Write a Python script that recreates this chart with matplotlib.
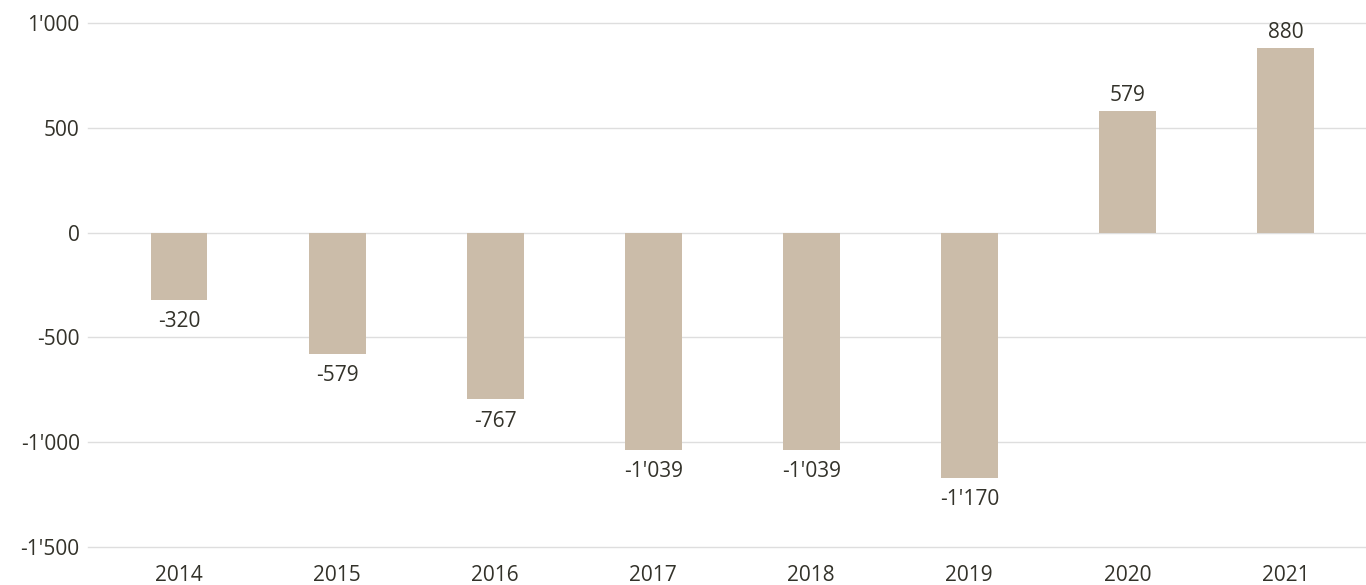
import matplotlib
matplotlib.use("Agg")
import matplotlib.pyplot as plt
from matplotlib.ticker import FuncFormatter

plt.rcParams['font.family'] = ['Open Sans', 'DejaVu Sans']

years = ['2014', '2015', '2016', '2017', '2018', '2019', '2020', '2021']
# bar heights as drawn in the source (2016 bar is drawn a bit longer than its label)
values = [-320, -580, -796, -1039, -1039, -1170, 579, 880]
labels = ['-320', '-579', '-767', "-1'039", "-1'039", "-1'170", '579', '880']
y_ticks = [-1500, -1000, -500, 0, 500, 1000]

text_col = '#33322a'
bar_col = '#cbbca9'


def swiss(v, pos=None):
    s = f"{abs(int(v)):,}".replace(',', "'")
    return ('-' if v < 0 else '') + s


fig = plt.figure(figsize=(13.66, 5.85), dpi=100)
ax = fig.add_axes([88 / 1366, 1 - 547 / 585, 1 - 88 / 1366, (547 - 23) / 585])

x = range(len(years))
bars = ax.bar(x, values, width=0.36, color=bar_col, zorder=2)

for xi, v, lab in zip(x, values, labels):
    if v < 0:
        ax.annotate(lab, (xi, v), xytext=(0, -8), textcoords='offset points',
                    ha='center', va='top', fontsize=15, color=text_col)
    else:
        ax.annotate(lab, (xi, v), xytext=(0, 3.5), textcoords='offset points',
                    ha='center', va='bottom', fontsize=15, color=text_col)

ax.set_ylim(-1500, 1000)
ax.set_xlim(-0.576, 7.51)
ax.set_yticks(y_ticks)
ax.yaxis.set_major_formatter(FuncFormatter(swiss))
ax.set_xticks(list(x))
ax.set_xticklabels(years)

ax.grid(axis='y', color='#dedede', linewidth=1, zorder=0)
for gl in ax.get_ygridlines():
    gl.set_clip_on(False)
for s in ax.spines.values():
    s.set_visible(False)
ax.tick_params(axis='both', length=0, labelsize=15, colors=text_col)
ax.tick_params(axis='y', pad=6)
ax.tick_params(axis='x', pad=13)

fig.savefig('out.png', dpi=100)
